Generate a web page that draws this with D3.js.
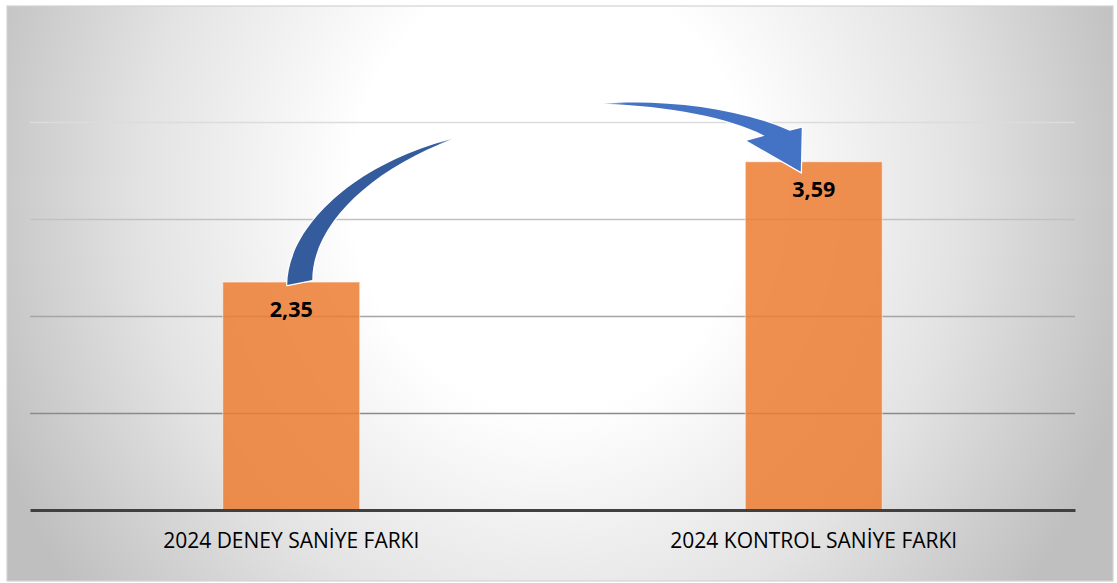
<!DOCTYPE html>
<html>
<head>
<meta charset="utf-8">
<script src="https://cdn.jsdelivr.net/npm/d3@7"></script>
<style>
  html, body { margin: 0; padding: 0; background: #ffffff; }
  svg { display: block; }
</style>
</head>
<body>
<svg id="chart" width="1117" height="583"></svg>
<script>
// ---- data ----
const categories = ["2024 DENEY SANİYE FARKI", "2024 KONTROL SANİYE FARKI"];
const values = [2.35, 3.59];
const valueLabels = ["2,35", "3,59"];
const gridTicks = [1, 2, 3, 4];

// ---- layout ----
const frame = { x: 7, y: 6, w: 1106, h: 575 };
const plot = { left: 30, right: 1075, top: 122, bottom: 510 };

const svg = d3.select("#chart");
const defs = svg.append("defs");

// background radial gradient
const bg = defs.append("radialGradient")
  .attr("id", "bgGrad")
  .attr("gradientUnits", "userSpaceOnUse")
  .attr("cx", 550).attr("cy", 190).attr("r", 600)
  .attr("gradientTransform", "translate(550,190) scale(1,1.1) translate(-550,-190)");
bg.append("stop").attr("offset", "0").attr("stop-color", "#ffffff");
bg.append("stop").attr("offset", "0.33").attr("stop-color", "#ffffff");
bg.append("stop").attr("offset", "0.68").attr("stop-color", "#e3e3e3");
bg.append("stop").attr("offset", "1").attr("stop-color", "#bfbfbf");

// arrow fades
const g1 = defs.append("linearGradient").attr("id", "arrowL")
  .attr("gradientUnits", "userSpaceOnUse")
  .attr("x1", 300).attr("y1", 280).attr("x2", 452).attr("y2", 138);
g1.append("stop").attr("offset", "0").attr("stop-color", "#345c9d");
g1.append("stop").attr("offset", "0.93").attr("stop-color", "#345c9d");
g1.append("stop").attr("offset", "1").attr("stop-color", "#345c9d").attr("stop-opacity", 0.35);

const g2 = defs.append("linearGradient").attr("id", "arrowR")
  .attr("gradientUnits", "userSpaceOnUse")
  .attr("x1", 603).attr("y1", 104).attr("x2", 680).attr("y2", 108);
g2.append("stop").attr("offset", "0").attr("stop-color", "#4472c4").attr("stop-opacity", 0.35);
g2.append("stop").attr("offset", "0.3").attr("stop-color", "#4472c4");
g2.append("stop").attr("offset", "1").attr("stop-color", "#4472c4");

svg.append("rect")
  .attr("x", frame.x).attr("y", frame.y)
  .attr("width", frame.w).attr("height", frame.h)
  .attr("fill", "url(#bgGrad)")
  .attr("stroke", "#d2d2d2").attr("stroke-width", 1.2);

// ---- scales ----
const x = d3.scaleBand()
  .domain(categories)
  .range([plot.left, plot.right])
  .paddingInner(0.738)
  .paddingOuter(0.369);

const y = d3.scaleLinear()
  .domain([0, 4])
  .range([plot.bottom, plot.top]);

// gridlines
const gridColor = d3.scaleLinear().domain([1, 4]).range(["#8a8a8a", "#dcdcdc"]);
svg.append("g").selectAll("line")
  .data(gridTicks)
  .join("line")
  .attr("x1", plot.left).attr("x2", plot.right)
  .attr("y1", d => Math.round(y(d)) + 0.5)
  .attr("y2", d => Math.round(y(d)) + 0.5)
  .attr("stroke", d => gridColor(d))
  .attr("stroke-width", 1.3);

// bars
svg.append("g").selectAll("rect")
  .data(values)
  .join("rect")
  .attr("x", (d, i) => x(categories[i]))
  .attr("y", d => y(d))
  .attr("width", x.bandwidth())
  .attr("height", d => y(0) - y(d))
  .attr("fill", "#ed7d31")
  .attr("fill-opacity", 0.85)
  .attr("stroke", "#ffffff")
  .attr("stroke-opacity", 0.5)
  .attr("stroke-width", 1);

// baseline axis
const xAxis = d3.axisBottom(x).tickSize(0).tickPadding(0);
const axisG = svg.append("g")
  .attr("transform", `translate(0,${plot.bottom})`)
  .call(xAxis);
axisG.select(".domain")
  .attr("stroke", "#404040")
  .attr("stroke-width", 3);
axisG.selectAll(".tick text")
  .attr("dy", null)
  .attr("y", 38)
  .attr("fill", "#000000")
  .attr("font-family", "'Open Sans', sans-serif")
  .attr("font-size", 21);

// value labels
svg.append("g").selectAll("text")
  .data(values)
  .join("text")
  .attr("x", (d, i) => x(categories[i]) + x.bandwidth() / 2)
  .attr("y", d => y(d) + 35)
  .attr("text-anchor", "middle")
  .attr("font-family", "'Open Sans', sans-serif")
  .attr("font-weight", "bold")
  .attr("font-size", 21.5)
  .attr("fill", "#000000")
  .text((d, i) => valueLabels[i]);

// ---- curved arrow (annotation from bar 1 to bar 2) ----
const b1x = x(categories[0]) + x.bandwidth() / 2;   // ~291
const b1y = y(values[0]);                            // ~282
const b2x = x(categories[1]) + x.bandwidth() / 2;   // ~814
const b2y = y(values[1]);                            // ~162

const arrowG = svg.append("g");

// left (rear) piece rising from first bar
const pL = d3.path();
pL.moveTo(b1x - 4, b1y + 3);
pL.bezierCurveTo(b1x - 4, b1y - 52, b1x + 59, b1y - 117, b1x + 161, b1y - 143);
pL.bezierCurveTo(b1x + 79, b1y - 112, b1x + 21, b1y - 57, b1x + 21, b1y - 2);
pL.closePath();
arrowG.append("path")
  .attr("d", pL.toString())
  .attr("fill", "url(#arrowL)")
  .attr("stroke", "#ffffff")
  .attr("stroke-width", 2.5)
  .attr("paint-order", "stroke")
  .attr("stroke-linejoin", "round");

// right (front) piece ending with the head on the second bar
const pR = d3.path();
pR.moveTo(b2x - 211, b2y - 58);
pR.bezierCurveTo(b2x - 154, b2y - 63, b2x - 74, b2y - 54, b2x - 24, b2y - 31);
pR.lineTo(b2x - 12, b2y - 34);
pR.lineTo(b2x - 13, b2y + 10);
pR.lineTo(b2x - 67, b2y - 21);
pR.lineTo(b2x - 49, b2y - 26);
pR.bezierCurveTo(b2x - 84, b2y - 44, b2x - 144, b2y - 56, b2x - 211, b2y - 58);
pR.closePath();
arrowG.append("path")
  .attr("d", pR.toString())
  .attr("fill", "url(#arrowR)")
  .attr("stroke", "#ffffff")
  .attr("stroke-width", 2.5)
  .attr("paint-order", "stroke")
  .attr("stroke-linejoin", "miter");
</script>
</body>
</html>
